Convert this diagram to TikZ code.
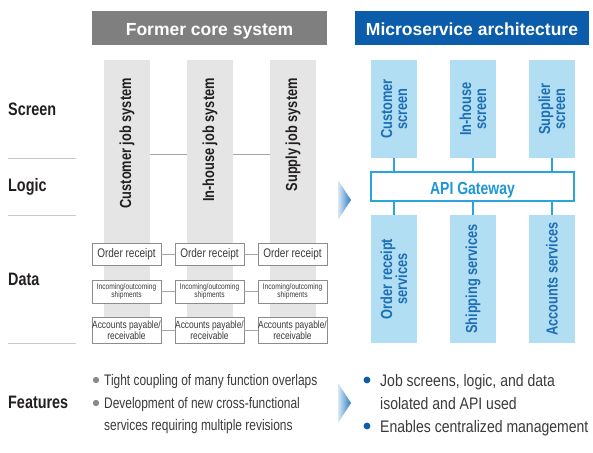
\documentclass[tikz,border=0pt]{standalone}
\usepackage{fontspec}
\setmainfont{Liberation Sans}
\newfontfamily\cf[FakeStretch=0.8]{Liberation Sans}
\newfontfamily\cfw[FakeStretch=0.84]{Liberation Sans}
\newfontfamily\cfn[FakeStretch=0.78]{Liberation Sans}
\definecolor{hdrgray}{HTML}{7F7F7F}
\definecolor{colgray}{HTML}{E5E5E5}
\definecolor{hdrblue}{HTML}{0B5CAB}
\definecolor{lightblue}{HTML}{B2DEF3}
\definecolor{textblue}{HTML}{1C6EB5}
\definecolor{apiblue}{HTML}{1E96D8}
\definecolor{lineblue}{HTML}{2AA5DC}
\definecolor{rowline}{HTML}{C8C8C8}
\definecolor{congray}{HTML}{A6A6A6}
\definecolor{boxgray}{HTML}{8C8C8C}
\definecolor{txt}{HTML}{231F20}
\definecolor{bodytxt}{HTML}{3A3A3A}
\definecolor{bulgray}{HTML}{8A8A8A}
\definecolor{arrowL}{HTML}{D8E8F6}
\definecolor{arrowR}{HTML}{2F7DC2}
\begin{document}
\begin{tikzpicture}[x=1pt,y=-1pt,
  hdr/.style={minimum height=34pt, inner sep=0pt, text height=14.6pt, text depth=0pt, text=white, font=\fontsize{17.5}{20}\selectfont\bfseries},
  rowlabel/.style={anchor=west, inner sep=0pt, text=txt, font=\cf\fontsize{18}{20}\selectfont\bfseries},
  rowsep/.style={draw=rowline, line width=0.8pt},
  graycol/.style={fill=colgray, minimum width=46pt, minimum height=283pt, inner sep=0pt},
  coltext/.style={rotate=90, anchor=east, inner sep=0pt, text=txt, font=\cf\fontsize{16}{18}\selectfont\bfseries},
  gcon/.style={draw=congray, line width=0.8pt},
  databox/.style={draw=boxgray, line width=0.8pt, fill=white, minimum width=69pt, inner sep=0pt, align=center, text=bodytxt},
  bluecol/.style={fill=lightblue, minimum width=46pt, inner sep=0pt},
  bluetext/.style={rotate=90, inner sep=0pt, align=center, text=textblue, font=\cf\fontsize{16}{15}\selectfont\bfseries},
  bcon/.style={draw=lineblue, line width=1.2pt},
  ftxt/.style={anchor=base west, inner sep=0pt, text=bodytxt, font=\cfn\fontsize{15.3}{18}\selectfont},
  ftxtr/.style={anchor=base west, inner sep=0pt, text=bodytxt, font=\cfw\fontsize{16.7}{20}\selectfont}
]
\useasboundingbox (0,0) rectangle (593,452);

% headers
\node[hdr, fill=hdrgray, minimum width=235pt] (hL) at (209.5,28) {Former core system};
\node[hdr, fill=hdrblue, minimum width=234pt] (hR) at (472,28) {Microservice architecture};

% row labels and separators
\node[rowlabel] (lScreen) at (8,109) {Screen};
\node[rowlabel] (lLogic) at (8,187) {Logic};
\node[rowlabel] (lData) at (8,279) {Data};
\node[rowlabel] (lFeat) at (8,402) {Features};
\draw[rowsep] (8,158) -- (76,158);
\draw[rowsep] (8,215) -- (76,215);
\draw[rowsep] (8,343) -- (76,343);

% former core system columns
\node[graycol] (c1) at (127,201.5) {};
\node[graycol] (c2) at (210,201.5) {};
\node[graycol] (c3) at (293,201.5) {};
\coordinate (ln) at (0,154);
\draw[gcon] (c1.east |- ln) -- (c2.west |- ln);
\draw[gcon] (c2.east |- ln) -- (c3.west |- ln);
\node[coltext] (t1) at (127,78) {Customer job system};
\node[coltext] (t2) at (210,78) {In-house job system};
\node[coltext] (t3) at (293,78) {Supply job system};

% data boxes
\node[databox, minimum height=22pt, font=\cf\fontsize{12.5}{14}\selectfont] (o1) at (126.5,254) {Order receipt};
\node[databox, minimum height=22pt, font=\cf\fontsize{12.5}{14}\selectfont] (o2) at (209.5,254) {Order receipt};
\node[databox, minimum height=22pt, font=\cf\fontsize{12.5}{14}\selectfont] (o3) at (292.5,254) {Order receipt};
\node[databox, minimum height=23pt, font=\cf\fontsize{8.3}{8.5}\selectfont] (i1) at (126.5,291.5) {Incoming/outcoming\\shipments};
\node[databox, minimum height=23pt, font=\cf\fontsize{8.3}{8.5}\selectfont] (i2) at (209.5,291.5) {Incoming/outcoming\\shipments};
\node[databox, minimum height=23pt, font=\cf\fontsize{8.3}{8.5}\selectfont] (i3) at (292.5,291.5) {Incoming/outcoming\\shipments};
\node[databox, minimum height=26pt, font=\cf\fontsize{10.5}{11.5}\selectfont] (a1) at (126.5,330) {Accounts payable/\\receivable};
\node[databox, minimum height=26pt, font=\cf\fontsize{10.5}{11.5}\selectfont] (a2) at (209.5,330) {Accounts payable/\\receivable};
\node[databox, minimum height=26pt, font=\cf\fontsize{10.5}{11.5}\selectfont] (a3) at (292.5,330) {Accounts payable/\\receivable};
\draw[gcon] (o1) -- (o2); \draw[gcon] (o2) -- (o3);
\draw[gcon] (i1) -- (i2); \draw[gcon] (i2) -- (i3);
\draw[gcon] (a1) -- (a2); \draw[gcon] (a2) -- (a3);

% arrows
\shade[left color=arrowL, right color=arrowR] (338,180) -- (351,200) -- (338,220) -- cycle;
\shade[left color=arrowL, right color=arrowR] (338,383) -- (351,403) -- (338,423) -- cycle;

% microservice architecture
\node[bluecol, minimum height=98pt] (s1) at (394,109) {};
\node[bluecol, minimum height=98pt] (s2) at (473,109) {};
\node[bluecol, minimum height=98pt] (s3) at (552,109) {};
\node[bluetext] (st1) at (394,109) {Customer\\screen};
\node[bluetext] (st2) at (473,109) {In-house\\screen};
\node[bluetext] (st3) at (552,109) {Supplier\\screen};
\node[draw=lineblue, line width=1.4pt, fill=white, minimum width=203pt, minimum height=29pt, inner sep=0pt, text height=15.6pt, text depth=0pt, text=apiblue, font=\cf\fontsize{17.5}{20}\selectfont\bfseries] (gw) at (472.5,186.5) {API Gateway};
\node[bluecol, minimum height=128pt] (b1) at (394,279) {};
\node[bluecol, minimum height=128pt] (b2) at (473,279) {};
\node[bluecol, minimum height=128pt] (b3) at (552,279) {};
\node[bluetext] (bt1) at (394,279) {Order receipt\\services};
\node[bluetext] (bt2) at (473,279) {Shipping services};
\node[bluetext] (bt3) at (552,279) {Accounts services};
\draw[bcon] (s1.south) -- (gw.north -| s1.south);
\draw[bcon] (s2.south) -- (gw.north -| s2.south);
\draw[bcon] (s3.south) -- (gw.north -| s3.south);
\draw[bcon] (gw.south -| b1.north) -- (b1.north);
\draw[bcon] (gw.south -| b2.north) -- (b2.north);
\draw[bcon] (gw.south -| b3.north) -- (b3.north);

% features
\fill[bulgray] (96,380) circle (3.2);
\fill[bulgray] (96,403) circle (3.2);
\node[ftxt] (f1) at (104,385.5) {Tight coupling of many function overlaps};
\node[ftxt] (f2) at (104,408) {Development of new cross-functional};
\node[ftxt] (f3) at (104,430.5) {services requiring multiple revisions};
\fill[hdrblue] (367,380) circle (3.4);
\fill[hdrblue] (367,426) circle (3.4);
\node[ftxtr] (g1) at (380,386.5) {Job screens, logic, and data};
\node[ftxtr] (g2) at (380,409) {isolated and API used};
\node[ftxtr] (g3) at (380,432) {Enables centralized management};
\end{tikzpicture}
\end{document}
